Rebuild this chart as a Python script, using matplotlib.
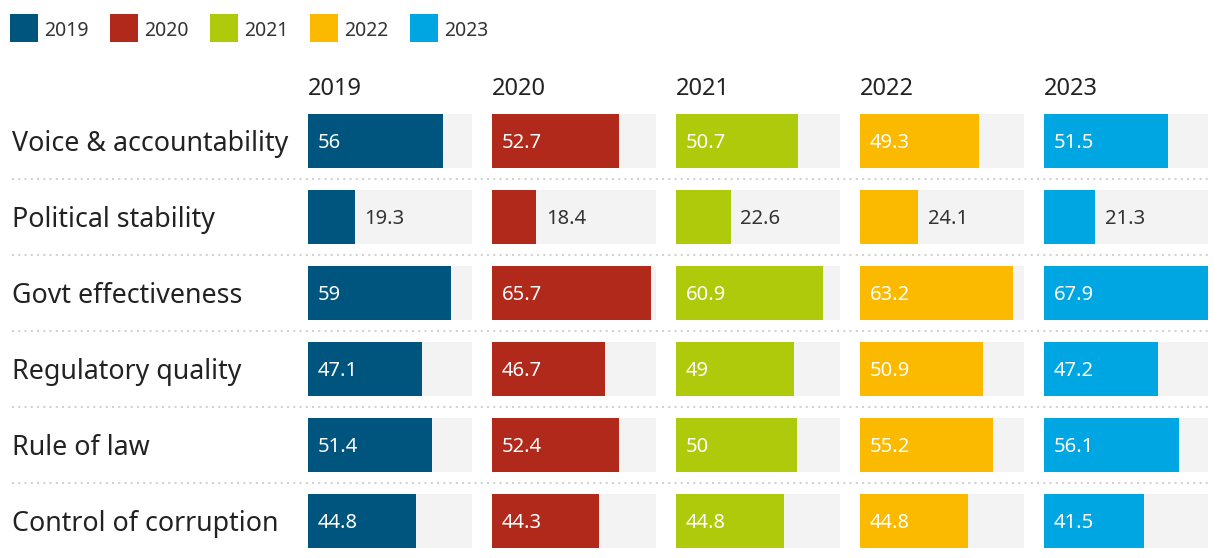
import matplotlib.pyplot as plt
from matplotlib.lines import Line2D

plt.rcParams['font.family'] = ['Noto Sans', 'DejaVu Sans']

# Data
years = ['2019', '2020', '2021', '2022', '2023']
indicators = ['Voice & accountability', 'Political stability', 'Govt effectiveness',
              'Regulatory quality', 'Rule of law', 'Control of corruption']
v2019 = [56, 19.3, 59, 47.1, 51.4, 44.8]
v2020 = [52.7, 18.4, 65.7, 46.7, 52.4, 44.3]
v2021 = [50.7, 22.6, 60.9, 49, 50, 44.8]
v2022 = [49.3, 24.1, 63.2, 50.9, 55.2, 44.8]
v2023 = [51.5, 21.3, 67.9, 47.2, 56.1, 41.5]
series = [v2019, v2020, v2021, v2022, v2023]
colors = ['#00557f', '#b0291a', '#afca0b', '#fbb900', '#00a6e2']

W, H = 1220, 558
CAP = 0.714 * 100 / 72  # cap height in px per pt (Noto Sans)

fig = plt.figure(figsize=(W / 100, H / 100), dpi=100)

# background axes in pixel units for labels, legend, separators
bg = fig.add_axes([0, 0, 1, 1])
bg.set_xlim(0, W)
bg.set_ylim(H, 0)
bg.axis('off')


def label(x, yc, s, size, color, ax=bg, scale=1.0):
    # place text so the digits/caps are centred on yc
    ax.text(x, yc + scale * CAP * size / 2, s, fontsize=size, color=color,
            va='baseline', ha='left')


pitch = 76
top = 141  # centre of first row
barh_px = 54
col_x = [308, 492, 676, 860, 1044]
col_w = 164
xmax = max(max(s) for s in series)

# legend
for i, (yr, c) in enumerate(zip(years, colors)):
    lx = 10 + i * 100
    bg.add_patch(plt.Rectangle((lx, 14), 28, 28, color=c, lw=0))
    label(lx + 34, 29, yr, 14, '#333333')

# row labels and dotted separators
for r, name in enumerate(indicators):
    yc = top + r * pitch
    label(12, yc, name, 19.3, '#222222')
    if r < len(indicators) - 1:
        bg.add_line(Line2D([12, 1208], [yc + pitch / 2] * 2, color='#d2d2d2',
                           lw=1.5, linestyle=(0, (1, 2))))

# column headers
for x0, yr in zip(col_x, years):
    label(x0, 87, yr, 17, '#222222')

# bar panels
y0 = top - barh_px / 2
y1 = top + (len(indicators) - 1) * pitch + barh_px / 2
half = barh_px / pitch / 2
rows = list(range(len(indicators)))
for x0, vals, c in zip(col_x, series, colors):
    ax = fig.add_axes([x0 / W, 1 - y1 / H, col_w / W, (y1 - y0) / H])
    ax.barh(rows, [xmax] * len(rows), height=barh_px / pitch, color='#f3f3f3', lw=0)
    ax.barh(rows, vals, height=barh_px / pitch, color=c, lw=0)
    ax.set_xlim(0, xmax)
    ax.set_ylim(len(rows) - 1 + half, -half)
    ax.axis('off')
    for r, v in zip(rows, vals):
        lab = f'{v:g}'
        off = CAP * 14.5 / 2 / pitch  # half digit height in row units
        if v > 30:
            ax.text(xmax * 0.06, r + off, lab, fontsize=14.5, color='white',
                    va='baseline', ha='left')
        else:
            ax.text(v + xmax * 0.06, r + off, lab, fontsize=14.5, color='#333333',
                    va='baseline', ha='left')

fig.savefig('out.png', dpi=100)
